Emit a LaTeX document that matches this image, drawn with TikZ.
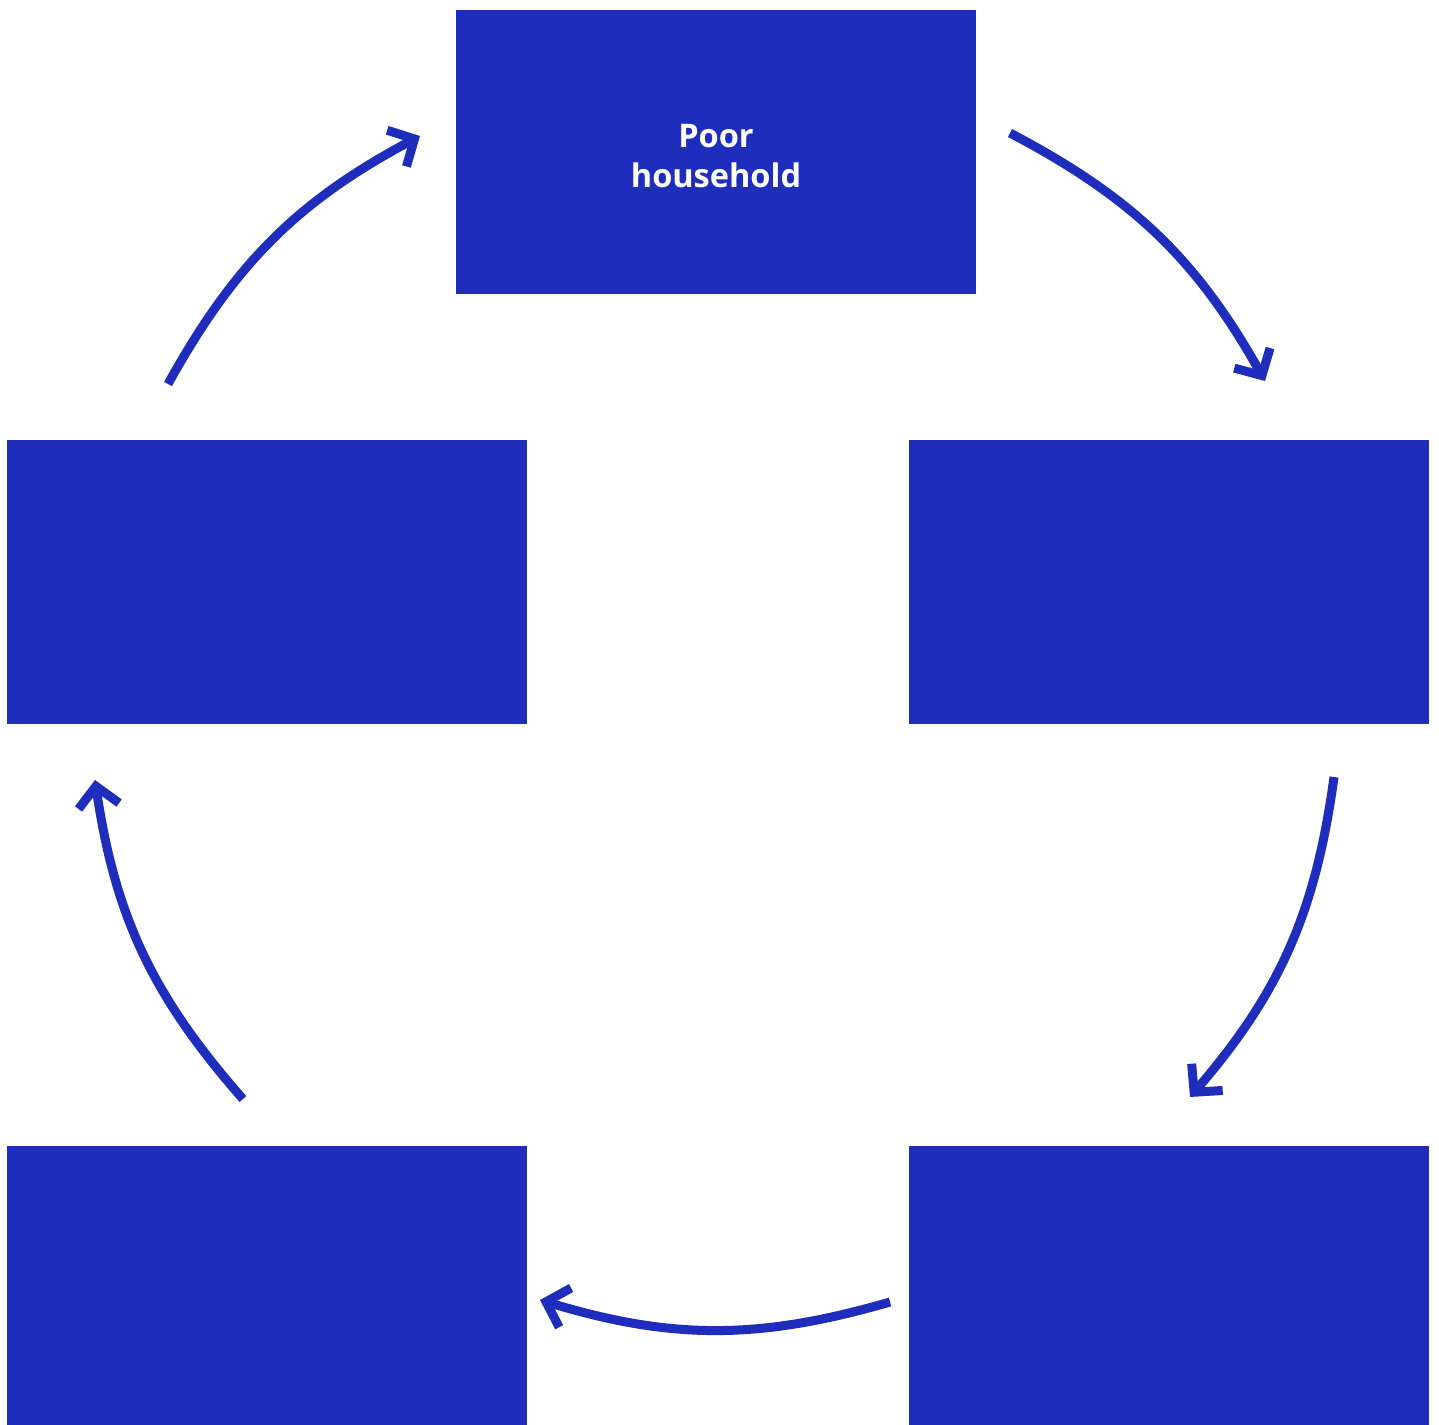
\documentclass[tikz,border=0pt]{standalone}
\usepackage{fontspec}
\setmainfont{Open Sans}
\usetikzlibrary{arrows.meta, positioning}
\definecolor{cycleblue}{HTML}{1F2DBD}
\tikzset{
  stagebox/.style={rectangle, fill=cycleblue, draw=none, text=white,
                   minimum width=10.4cm, minimum height=5.68cm, align=center,
                   inner sep=0pt, font=\bfseries\fontsize{18.5pt}{22.8pt}\selectfont},
  cyclearrow/.style={-{Straight Barb[length=4mm, width=8.2mm, line width=0.18cm]},
                     line width=0.18cm, cycleblue, bend left=16.5},
}
\begin{document}
\begin{tikzpicture}[x=0.02cm, y=-0.02cm]
\useasboundingbox (0,0) rectangle (1439,1425);

% -- five stages of the cycle --
\node[stagebox] (poor) at (716,152) {};
\node[font=\bfseries\fontsize{18.5pt}{22.8pt}\selectfont, text=white, align=center,
      inner sep=0pt] (poortxt) at (716,156) {Poor\\household};
\node[stagebox] (right) at (1169,582) {};
\node[stagebox] (botright) at (1169,1288) {};
\node[stagebox] (botleft) at (267,1288) {};
\node[stagebox] (left) at (267,582) {};

% -- arrow ends --
\coordinate (a1s) at (1010,133);  \coordinate (a1e) at (1265,381);
\coordinate (a2s) at (1334,777);  \coordinate (a2e) at (1190,1097);
\coordinate (a3s) at (890,1302);  \coordinate (a3e) at (540,1300);
\coordinate (a4s) at (243,1099);  \coordinate (a4e) at (95,780);
\coordinate (a5s) at (168,384);   \coordinate (a5e) at (420,136);

% -- clockwise arrows --
\draw[cyclearrow] (a1s) to (a1e);
\draw[cyclearrow] (a2s) to (a2e);
\draw[cyclearrow] (a3s) to (a3e);
\draw[cyclearrow] (a4s) to (a4e);
\draw[cyclearrow] (a5s) to (a5e);

\end{tikzpicture}
\end{document}
